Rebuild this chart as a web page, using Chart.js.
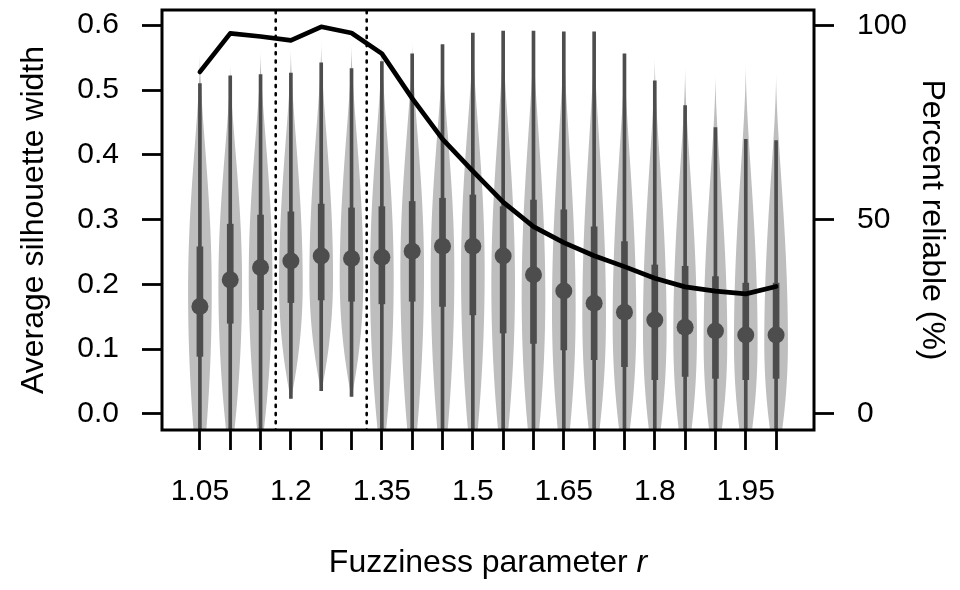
<!DOCTYPE html>
<html>
<head>
<meta charset="utf-8">
<script src="https://cdn.jsdelivr.net/npm/chart.js@4/dist/chart.umd.min.js"></script>
<style>
    html, body { margin: 0; padding: 0; background: #ffffff; }
    #chart { display: block; }
</style>
</head>
<body>
<canvas id="chart" width="960" height="590" style="width:960px;height:590px"></canvas>
<script>
// DATA

const rValues = [1.05, 1.10, 1.15, 1.20, 1.25, 1.30, 1.35, 1.40, 1.45, 1.50,
                 1.55, 1.60, 1.65, 1.70, 1.75, 1.80, 1.85, 1.90, 1.95, 2.00];
const xTickLabels = ["1.05", "1.2", "1.35", "1.5", "1.65", "1.8", "1.95"];
const yTicks = [0, 0.1, 0.2, 0.3, 0.4, 0.5, 0.6];
const y2Ticks = [0, 50, 100];
const cutoffs = [1.175, 1.325];

// silhouette width summaries per r
const medians = [0.166, 0.207, 0.226, 0.236, 0.244, 0.240, 0.242, 0.251, 0.259, 0.259,
                 0.244, 0.215, 0.190, 0.171, 0.157, 0.145, 0.134, 0.128, 0.122, 0.122];
const q1 = [0.089, 0.140, 0.161, 0.172, 0.176, 0.174, 0.170, 0.174, 0.166, 0.153,
            0.125, 0.109, 0.099, 0.084, 0.073, 0.053, 0.058, 0.055, 0.053, 0.055];
const q3 = [0.258, 0.293, 0.307, 0.312, 0.324, 0.318, 0.320, 0.328, 0.333, 0.338,
            0.320, 0.330, 0.315, 0.289, 0.266, 0.230, 0.228, 0.212, 0.202, 0.202];
const whiskerLow = [-0.06, -0.06, -0.06, 0.024, 0.036, 0.027, -0.06, -0.06, -0.06, -0.06,
                    -0.06, -0.06, -0.06, -0.06, -0.06, -0.06, -0.06, -0.06, -0.06, -0.06];
const whiskerHigh = [0.510, 0.522, 0.524, 0.526, 0.542, 0.533, 0.544, 0.556, 0.570, 0.588,
                     0.591, 0.591, 0.590, 0.590, 0.556, 0.514, 0.476, 0.442, 0.424, 0.422];
// violin outline: lowest / highest value and where the density peaks
const tipLow = [-0.127, -0.080, -0.067, 0.022, 0.034, 0.025, -0.083, -0.099, -0.106, -0.099,
                -0.098, -0.102, -0.104, -0.086, -0.082, -0.088, -0.093, -0.087, -0.087, -0.083];
const tipHigh = [0.557, 0.541, 0.561, 0.565, 0.575, 0.572, 0.575, 0.575, 0.572, 0.590,
                 0.593, 0.593, 0.592, 0.592, 0.567, 0.552, 0.537, 0.526, 0.541, 0.527];
const densityPeak = [0.19, 0.20, 0.21, 0.20, 0.21, 0.21, 0.21, 0.22, 0.22, 0.22,
                     0.20, 0.18, 0.16, 0.15, 0.14, 0.13, 0.12, 0.11, 0.11, 0.11];

// percent of reliable assignments per r
const percentReliable = [88.0, 97.9, 97.1, 96.1, 99.6, 98.0, 92.7, 81.2, 70.7, 62.5,
                         54.5, 48.2, 44.1, 40.7, 37.9, 34.9, 32.7, 31.6, 30.9, 32.8];

// STYLE

const FONT = "'Liberation Sans', Arial, sans-serif";
const VIOLIN_GREY = "#bebebe";
const BOX_GREY = "#4d4d4d";
const violinHalfWidth = 0.0195; // in r units

function fmtR(v) {
    return String(Number(v.toFixed(2)));
}

// VIOLINS + CUT-OFF LINES

const violinPlugin = {
    id: "violins",
    beforeDatasetsDraw(chart) {
        const { ctx, chartArea, scales } = chart;
        const xs = scales.x;
        const ys = scales.y;

        ctx.save();
        ctx.beginPath();
        ctx.rect(chartArea.left, chartArea.top, chartArea.width, chartArea.height);
        ctx.clip();

        ctx.fillStyle = VIOLIN_GREY;
        rValues.forEach((r, i) => {
            const lo = tipLow[i], hi = tipHigh[i], peak = densityPeak[i];
            const pts = [];
            const steps = 80;
            for (let k = 0; k <= steps; k++) {
                const v = lo + (hi - lo) * k / steps;
                let w;
                if (v >= peak) {
                    const u = (v - peak) / (hi - peak);
                    w = Math.pow(Math.max(0, 1 - u * u), 1.8);
                } else {
                    const u = (peak - v) / (peak - lo);
                    w = Math.max(0, 1 - u * u);
                }
                pts.push([v, w]);
            }
            ctx.beginPath();
            pts.forEach(([v, w], k) => {
                const px = xs.getPixelForValue(r + violinHalfWidth * w);
                const py = ys.getPixelForValue(v);
                if (k === 0) ctx.moveTo(px, py); else ctx.lineTo(px, py);
            });
            for (let k = pts.length - 1; k >= 0; k--) {
                const [v, w] = pts[k];
                ctx.lineTo(xs.getPixelForValue(r - violinHalfWidth * w), ys.getPixelForValue(v));
            }
            ctx.closePath();
            ctx.fill();
        });

        ctx.strokeStyle = "#000000";
        ctx.lineWidth = 2.6;
        ctx.lineCap = "round";
        ctx.setLineDash([2, 6.2]);
        ctx.lineDashOffset = 6.9;
        cutoffs.forEach(c => {
            const px = xs.getPixelForValue(c);
            ctx.beginPath();
            ctx.moveTo(px, chartArea.top);
            ctx.lineTo(px, chartArea.bottom);
            ctx.stroke();
        });
        ctx.restore();
    }
};

// FRAME + AXIS TITLES

const framePlugin = {
    id: "frame",
    afterDraw(chart) {
        const { ctx, chartArea } = chart;
        ctx.save();
        ctx.strokeStyle = "#000000";
        ctx.lineWidth = 3;
        ctx.strokeRect(chartArea.left, chartArea.top, chartArea.width, chartArea.height);

        ctx.fillStyle = "#000000";
        ctx.font = "32px " + FONT;
        const midY = (chartArea.top + chartArea.bottom) / 2;

        ctx.save();
        ctx.translate(43, midY);
        ctx.rotate(-Math.PI / 2);
        ctx.textAlign = "center";
        ctx.textBaseline = "alphabetic";
        ctx.fillText("Average silhouette width", 0, 0);
        ctx.restore();

        ctx.save();
        ctx.translate(923, midY);
        ctx.rotate(Math.PI / 2);
        ctx.textAlign = "center";
        ctx.textBaseline = "alphabetic";
        ctx.fillText("Percent reliable (%)", 0, 0);
        ctx.restore();

        const plain = "Fuzziness parameter ";
        const wPlain = ctx.measureText(plain).width;
        ctx.font = "italic 32px " + FONT;
        const wItalic = ctx.measureText("r").width;
        const startX = (chartArea.left + chartArea.right) / 2 - (wPlain + wItalic) / 2;
        ctx.textAlign = "left";
        ctx.textBaseline = "alphabetic";
        ctx.font = "32px " + FONT;
        ctx.fillText(plain, startX, 572);
        ctx.font = "italic 32px " + FONT;
        ctx.fillText("r", startX + wPlain, 572);
        ctx.restore();
    }
};

// CHART

const tickGrid = {
    display: true,
    offset: false,
    drawOnChartArea: false,
    drawTicks: true,
    tickLength: 20,
    tickWidth: 2.8,
    tickColor: "#000000"
};

function noPadding(s) {
    s.paddingTop = 0;
    s.paddingBottom = 0;
    s.paddingLeft = 0;
    s.paddingRight = 0;
}

new Chart(document.getElementById("chart"), {
    type: "scatter",
    data: {
        datasets: [
            {
                type: "line",
                label: "Percent reliable",
                data: rValues.map((r, i) => ({ x: r, y: percentReliable[i] })),
                yAxisID: "y2",
                borderColor: "#000000",
                borderWidth: 4.7,
                borderCapStyle: "round",
                borderJoinStyle: "round",
                pointRadius: 0,
                tension: 0,
                fill: false,
                order: 0
            },
            {
                type: "scatter",
                label: "Median",
                data: rValues.map((r, i) => ({ x: r, y: medians[i] })),
                yAxisID: "y",
                pointRadius: 8.5,
                pointBackgroundColor: BOX_GREY,
                pointBorderWidth: 0,
                order: 1
            },
            {
                type: "bar",
                label: "IQR",
                data: rValues.map((r, i) => ({ x: r, y: [q1[i], q3[i]] })),
                yAxisID: "y",
                backgroundColor: BOX_GREY,
                borderWidth: 0,
                barThickness: 6,
                grouped: false,
                order: 2
            },
            {
                type: "bar",
                label: "Whiskers",
                data: rValues.map((r, i) => ({ x: r, y: [whiskerLow[i], whiskerHigh[i]] })),
                yAxisID: "y",
                backgroundColor: BOX_GREY,
                borderWidth: 0,
                barThickness: 3,
                grouped: false,
                order: 3
            }
        ]
    },
    options: {
        responsive: false,
        animation: false,
        devicePixelRatio: 1,
        layout: { padding: { top: 10, left: 0, right: 0, bottom: 0 } },
        plugins: {
            legend: { display: false },
            tooltip: { enabled: false }
        },
        scales: {
            x: {
                type: "linear",
                position: "bottom",
                min: 0.9875,
                max: 2.0625,
                offset: false,
                afterBuildTicks: s => { s.ticks = rValues.map(v => ({ value: v })); },
                afterFit: s => { s.height = 160; noPadding(s); },
                grid: tickGrid,
                border: { display: false },
                ticks: {
                    autoSkip: false,
                    maxRotation: 0,
                    padding: 24,
                    color: "#000000",
                    font: { family: FONT, size: 30 },
                    callback: v => (xTickLabels.includes(fmtR(v)) ? fmtR(v) : "")
                }
            },
            y: {
                type: "linear",
                position: "left",
                min: -0.0247,
                max: 0.6235,
                afterBuildTicks: s => { s.ticks = yTicks.map(v => ({ value: v })); },
                afterFit: s => { s.width = 162; noPadding(s); },
                grid: tickGrid,
                border: { display: false },
                ticks: {
                    padding: 23,
                    color: "#000000",
                    font: { family: FONT, size: 30 },
                    callback: v => v.toFixed(1)
                }
            },
            y2: {
                type: "linear",
                position: "right",
                min: -4.12,
                max: 103.92,
                afterBuildTicks: s => { s.ticks = y2Ticks.map(v => ({ value: v })); },
                afterFit: s => { s.width = 146; noPadding(s); },
                grid: tickGrid,
                border: { display: false },
                ticks: {
                    padding: 23,
                    color: "#000000",
                    font: { family: FONT, size: 30 },
                    callback: v => String(v)
                }
            }
        }
    },
    plugins: [violinPlugin, framePlugin]
});
</script>
</body>
</html>
